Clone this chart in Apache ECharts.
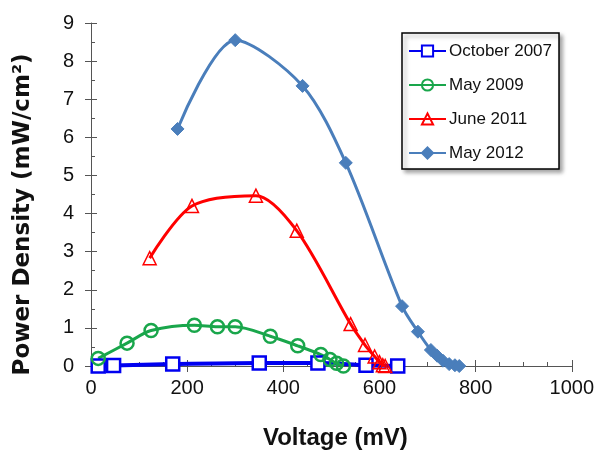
<!DOCTYPE html>
<html>
<head>
<meta charset="utf-8">
<script src="https://cdn.jsdelivr.net/npm/echarts@6/dist/echarts.min.js"></script>
<style>
  html, body { margin: 0; padding: 0; background: #fff; }
  #chart { width: 597px; height: 455px; }
</style>
</head>
<body>
<div id="chart"></div>
<script>
// 数据: [电压 mV, 功率密度 mW/cm2]
var oct2007 = [[15, 0], [47, 0.01], [170, 0.05], [350, 0.08], [472, 0.08], [572, 0.02], [638, 0]];
var may2009 = [[15, 0.2], [75, 0.6], [125, 0.93], [215, 1.07], [263, 1.03], [300, 1.03], [373, 0.78],
  [430, 0.53], [478, 0.3], [497, 0.17], [511, 0.07], [525, 0]];
var jun2011 = [[122, 2.83], [210, 4.2], [343, 4.47], [428, 3.55], [540, 1.1], [570, 0.55],
  [590, 0.25], [600, 0.1], [607, 0.02], [612, 0]];
var may2012 = [[180, 6.22], [300, 8.55], [440, 7.35], [530, 5.33], [647, 1.57], [680, 0.9],
  [707, 0.42], [720, 0.27], [732, 0.14], [745, 0.05], [757, 0.02], [766, 0]];
var seriesNames = ['October 2007', 'May 2009', 'June 2011', 'May 2012'];

var font = "'Liberation Sans', Arial, sans-serif";
var axisColor = '#555';

var chart = echarts.init(document.getElementById('chart'));
chart.setOption({
  animation: false,
  textStyle: { fontFamily: font },
  grid: { left: 91, right: 22, top: 23, bottom: 87 },
  legend: {
    data: seriesNames,
    orient: 'vertical',
    left: 402,
    top: 33,
    itemWidth: 37,
    itemHeight: 14,
    itemGap: 14,
    padding: [8, 7, 6, 6],
    backgroundColor: '#fff',
    borderColor: '#000',
    borderWidth: 1.5,
    shadowColor: 'rgba(0,0,0,0.35)',
    shadowBlur: 4,
    shadowOffsetX: 3,
    shadowOffsetY: 3,
    textStyle: { fontFamily: font, fontSize: 17, color: '#111', lineHeight: 20, padding: [0, 0, 0, -2] }
  },
  // 两条x轴: 一条朝外刻度带标签, 一条朝内刻度带小刻度
  xAxis: [{
    type: 'value', min: 0, max: 1000, interval: 200, position: 'bottom',
    name: 'Voltage (mV)', nameLocation: 'middle', nameGap: 60,
    nameTextStyle: { fontFamily: font, fontSize: 24, fontWeight: 'bold', color: '#111', padding: [0, 0, 0, 8] },
    axisLine: { show: true, lineStyle: { color: axisColor, width: 1 } },
    axisTick: { show: true, inside: false, length: 6, lineStyle: { color: axisColor } },
    axisLabel: { fontSize: 20, color: '#111', margin: 12, formatter: function (v) { return String(v); } },
    splitLine: { show: false }
  }, {
    type: 'value', min: 0, max: 1000, interval: 200, position: 'bottom',
    axisLine: { show: false },
    axisTick: { show: true, inside: true, length: 6, lineStyle: { color: axisColor } },
    minorTick: { show: true, splitNumber: 4, length: 4, lineStyle: { color: axisColor } },
    axisLabel: { show: false },
    splitLine: { show: false }
  }],
  yAxis: [{
    type: 'value', min: 0, max: 9, interval: 1, position: 'left',
    name: 'Power Density (mW/cm²)', nameLocation: 'middle', nameGap: 56,
    nameTextStyle: { fontFamily: "'DejaVu Sans', sans-serif", fontSize: 23, fontWeight: 'bold', color: '#111', padding: [0, 40, 0, 0] },
    axisLine: { show: true, lineStyle: { color: axisColor, width: 1 } },
    axisTick: { show: true, inside: false, length: 6, lineStyle: { color: axisColor } },
    axisLabel: { fontSize: 20, color: '#111', margin: 17 },
    splitLine: { show: false }
  }, {
    type: 'value', min: 0, max: 9, interval: 1, position: 'left',
    axisLine: { show: false },
    axisTick: { show: true, inside: true, length: 6, lineStyle: { color: axisColor } },
    minorTick: { show: true, splitNumber: 2, length: 4, lineStyle: { color: axisColor } },
    axisLabel: { show: false },
    splitLine: { show: false }
  }],
  series: [{
    name: seriesNames[0], type: 'line', data: oct2007, smooth: 0.3,
    symbol: 'rect', symbolSize: 13, showAllSymbol: true,
    lineStyle: { color: '#0000f0', width: 4 },
    itemStyle: { color: '#fff', borderColor: '#0000f0', borderWidth: 2.5 }
  }, {
    name: seriesNames[1], type: 'line', data: may2009, smooth: 0.3,
    symbol: 'circle', symbolSize: 13, showAllSymbol: true,
    lineStyle: { color: '#19a64b', width: 3 },
    itemStyle: { color: 'rgba(255,255,255,0)', borderColor: '#19a64b', borderWidth: 2.5 }
  }, {
    name: seriesNames[2], type: 'line', data: jun2011, smooth: 0.3,
    symbol: 'triangle', symbolSize: 13, showAllSymbol: true,
    lineStyle: { color: '#ff0000', width: 3 },
    itemStyle: { color: 'rgba(255,255,255,0)', borderColor: '#ff0000', borderWidth: 1.5 }
  }, {
    name: seriesNames[3], type: 'line', data: may2012, smooth: 0.3,
    symbol: 'diamond', symbolSize: 13, showAllSymbol: true,
    lineStyle: { color: '#4a7ebb', width: 3 },
    itemStyle: { color: '#4a7ebb', borderColor: '#4a7ebb', borderWidth: 1 }
  }]
});
</script>
</body>
</html>
